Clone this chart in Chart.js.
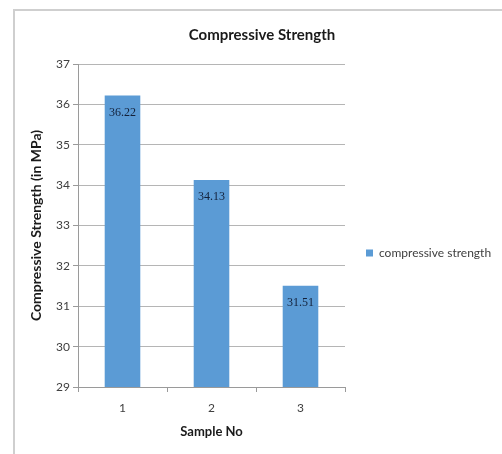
<!DOCTYPE html>
<html>
<head>
<meta charset="utf-8">
<script src="https://cdn.jsdelivr.net/npm/chart.js@4/dist/chart.umd.min.js"></script>
<style>
  html, body { margin: 0; padding: 0; background: #ffffff; }
  #wrap { position: relative; width: 502px; height: 454px; }
</style>
</head>
<body>
<div id="wrap"><canvas id="chart" width="502" height="454"></canvas></div>
<script>
// Sample categories and measured compressive strength (MPa)
const samples = ['1', '2', '3'];
const strength = [36.22, 34.13, 31.51];
const seriesName = 'compressive strength';
const yTicks = [29, 30, 31, 32, 33, 34, 35, 36, 37];

const FONT = 'Lato, "Open Sans", sans-serif';
const BAR_COLOR = '#5b9bd5';
const TEXT_COLOR = '#404040';
const LEGEND_WIDTH = 157;

// Light frame along the top and left edge of the chart box
const framePlugin = {
  id: 'frame',
  beforeDraw(chart) {
    const ctx = chart.ctx;
    ctx.save();
    ctx.strokeStyle = '#cfcfcf';
    ctx.lineWidth = 2;
    ctx.beginPath();
    ctx.moveTo(14, chart.height);
    ctx.lineTo(14, 10);
    ctx.lineTo(chart.width, 10);
    ctx.stroke();
    ctx.restore();
  }
};

// Keep the legend column at a constant width
const legendWidth = {
  id: 'legendWidth',
  afterInit(chart) {
    const lg = chart.legend;
    if (!lg) return;
    const origFit = lg.fit.bind(lg);
    lg.fit = function () {
      origFit();
      this.width = LEGEND_WIDTH;
    };
  }
};

// Value labels drawn inside the top of each bar
const valueLabels = {
  id: 'valueLabels',
  afterDatasetsDraw(chart) {
    const ctx = chart.ctx;
    const meta = chart.getDatasetMeta(0);
    const data = chart.data.datasets[0].data;
    ctx.save();
    ctx.font = '12px "Liberation Serif", "DejaVu Serif", serif';
    ctx.fillStyle = '#13213a';
    ctx.textAlign = 'center';
    ctx.textBaseline = 'middle';
    meta.data.forEach((bar, i) => {
      ctx.fillText(data[i].toFixed(2), bar.x, bar.y + 17);
    });
    ctx.restore();
  }
};

new Chart(document.getElementById('chart'), {
  type: 'bar',
  data: {
    labels: samples,
    datasets: [{
      label: seriesName,
      data: strength,
      backgroundColor: BAR_COLOR,
      borderWidth: 0,
      categoryPercentage: 1,
      barPercentage: 0.4
    }]
  },
  options: {
    responsive: false,
    animation: false,
    devicePixelRatio: 1,
    layout: { padding: { left: 22, right: 0, top: 0, bottom: 0 } },
    plugins: {
      tooltip: { enabled: false },
      title: {
        display: true,
        text: 'Compressive Strength',
        color: '#1a1a1a',
        font: { family: FONT, size: 15, weight: 'bold', lineHeight: 1.2 },
        padding: { top: 26, bottom: 20 }
      },
      legend: {
        display: true,
        position: 'right',
        title: {
          display: true,
          text: ' ',
          font: { size: 10, lineHeight: 1.2 },
          padding: { top: 40, bottom: 0 }
        },
        labels: {
          color: TEXT_COLOR,
          font: { family: FONT, size: 12 },
          boxWidth: 7,
          boxHeight: 7,
          padding: 21
        }
      }
    },
    scales: {
      x: {
        offset: true,
        grid: {
          offset: true,
          drawOnChartArea: false,
          drawTicks: true,
          tickLength: 5,
          tickColor: '#9a9a9a'
        },
        border: { display: true, color: '#9a9a9a', width: 1 },
        ticks: {
          color: TEXT_COLOR,
          font: { family: FONT, size: 12 },
          padding: 9
        },
        title: {
          display: true,
          text: 'Sample No',
          color: '#1a1a1a',
          font: { family: FONT, size: 13, weight: 'bold', lineHeight: 1.2 },
          padding: { top: 0, bottom: 14 }
        },
        afterFit(scale) { scale.height = 67; }
      },
      y: {
        min: 29,
        max: 37,
        afterBuildTicks(scale) { scale.ticks = yTicks.map(v => ({ value: v })); },
        grid: {
          color: '#b5b5b5',
          lineWidth: 1,
          drawTicks: true,
          tickLength: 5,
          tickColor: '#9a9a9a'
        },
        border: { display: true, color: '#9a9a9a', width: 1 },
        ticks: {
          color: TEXT_COLOR,
          font: { family: FONT, size: 12 },
          padding: 3
        },
        title: {
          display: true,
          text: 'Compressive Strength (in MPa)',
          color: '#1a1a1a',
          font: { family: FONT, size: 14, weight: 'bold', lineHeight: 1.2 },
          padding: { top: 6, bottom: 0 }
        },
        afterFit(scale) { scale.width = 56; }
      }
    }
  },
  plugins: [framePlugin, legendWidth, valueLabels]
});
</script>
</body>
</html>
